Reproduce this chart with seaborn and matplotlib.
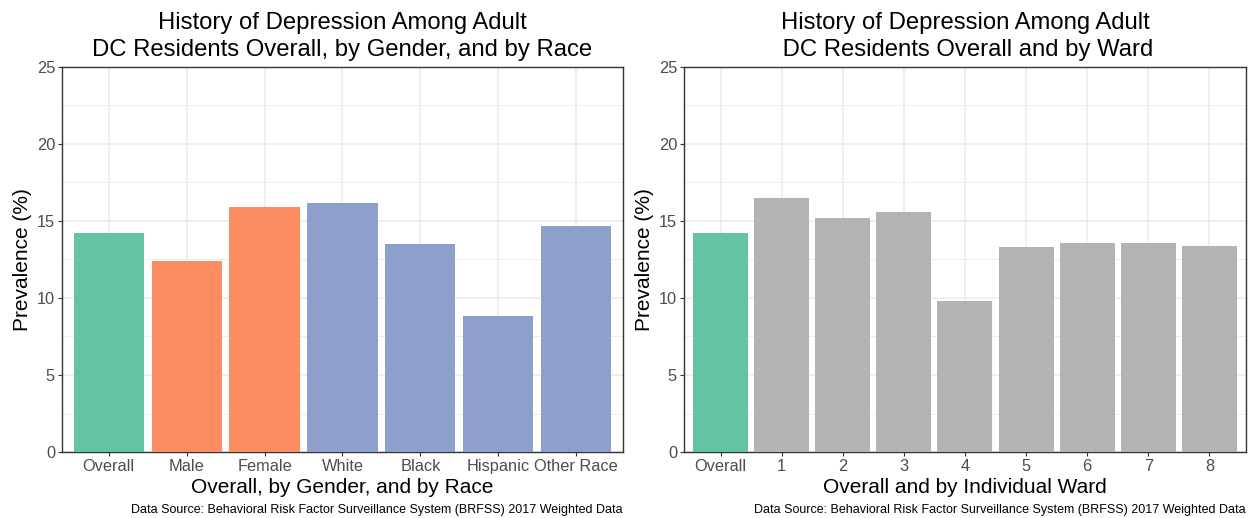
import numpy as np
import pandas as pd
import seaborn as sns
import matplotlib.pyplot as plt

# left panel data
groups = ["Overall", "Male", "Female", "White", "Black", "Hispanic", "Other Race"]
group_kind = ["Overall", "Gender", "Gender", "Race", "Race", "Race", "Race"]
group_prev = [14.2, 12.4, 15.9, 16.2, 13.5, 8.8, 14.7]

# right panel data
wards = ["Overall", "1", "2", "3", "4", "5", "6", "7", "8"]
ward_kind = ["Overall", "Ward", "Ward", "Ward", "Ward", "Ward", "Ward", "Ward", "Ward"]
ward_prev = [14.2, 16.5, 15.2, 15.6, 9.8, 13.3, 13.6, 13.6, 13.4]

caption = "Data Source: Behavioral Risk Factor Surveillance System (BRFSS) 2017 Weighted Data"

sns.set_theme(style="white")
plt.rcParams['font.family'] = ['Liberation Sans', 'DejaVu Sans']

fig = plt.figure(figsize=(12.49, 5.18), dpi=100)
ax1 = fig.add_axes([0.0496, 0.1274, 0.4492, 0.7433])
ax2 = fig.add_axes([0.5476, 0.1274, 0.4500, 0.7433])


def draw_panel(ax, cats, kinds, vals, pal, title, xlabel):
    df = pd.DataFrame({"cat": cats, "kind": kinds, "prev": vals})
    sns.barplot(data=df, x="cat", y="prev", hue="kind", palette=pal,
                dodge=False, width=0.9, saturation=1, legend=False, ax=ax,
                linewidth=0, zorder=3)
    ax.set_ylim(0, 25)
    ax.set_xlim(-0.6, len(cats) - 0.4)
    ax.set_yticks([0, 5, 10, 15, 20, 25])
    ax.set_yticks([2.5, 7.5, 12.5, 17.5, 22.5], minor=True)
    ax.grid(True, which="major", color="#EBEBEB", lw=1.1, zorder=0)
    ax.grid(True, which="minor", axis="y", color="#EBEBEB", lw=0.6, zorder=0)
    ax.set_axisbelow(True)
    for s in ax.spines.values():
        s.set_visible(True)
        s.set_color("#333333")
        s.set_linewidth(1.0)
    ax.tick_params(axis="both", which="major", length=3, width=0.8, color="#333333",
                   labelsize=11.8, labelcolor="#4D4D4D", pad=2, bottom=True, left=True)
    ax.tick_params(axis="both", which="minor", length=0)
    ax.set_xlabel(xlabel, fontsize=15, color="black", labelpad=3)
    ax.set_ylabel("Prevalence (%)", fontsize=15, color="black", labelpad=3)
    ax.set_title(title, fontsize=17.2, color="black", pad=8, linespacing=1.27)
    pos = ax.get_position()
    fig.text(pos.x1, 0.016, caption, ha="right", va="center",
             fontsize=9, color="black")


draw_panel(ax1, groups, group_kind, group_prev,
           {"Overall": "#66C2A5", "Gender": "#FC8D62", "Race": "#8DA0CB"},
           "History of Depression Among Adult\nDC Residents Overall, by Gender, and by Race",
           "Overall, by Gender, and by Race")
draw_panel(ax2, wards, ward_kind, ward_prev,
           {"Overall": "#66C2A5", "Ward": "#B3B3B3"},
           "History of Depression Among Adult\n DC Residents Overall and by Ward",
           "Overall and by Individual Ward")

fig.savefig("out.png", dpi=100)
